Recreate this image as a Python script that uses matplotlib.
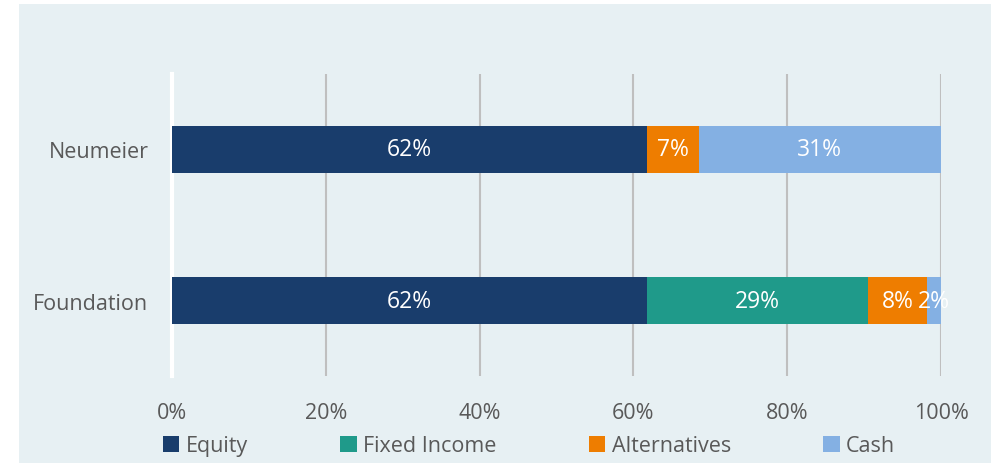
import matplotlib.pyplot as plt
from matplotlib.patches import Rectangle
import numpy as np

plt.rcParams['font.family'] = ['Open Sans', 'DejaVu Sans']

# data
groups = ['Foundation', 'Neumeier']
series = ['Equity', 'Fixed Income', 'Alternatives', 'Cash']
equity = [61.8, 61.8]
fixed_income = [28.7, 0]
alternatives = [7.7, 6.7]
cash = [1.8, 31.5]
labels = {
    'Equity': ['62%', '62%'],
    'Fixed Income': ['29%', ''],
    'Alternatives': ['8%', '7%'],
    'Cash': ['2%', '31%'],
}
colors = ['#193D6C', '#1F9A8A', '#EE7D00', '#84B0E3']
tick_text = ['0%', '20%', '40%', '60%', '80%', '100%']

fig = plt.figure(figsize=(9.91, 4.64), dpi=100)
bg = Rectangle((19 / 991, 0), 1, 1 - 5 / 464, transform=fig.transFigure,
               facecolor='#E7F0F3', edgecolor='none', zorder=-10)
fig.patches.append(bg)
ax = fig.add_axes([172 / 991, 1 - 377 / 464, 769 / 991, 302 / 464])
ax.set_facecolor('none')

y = np.arange(len(groups))
left = np.zeros(len(groups))
for name, vals, c in zip(series, [equity, fixed_income, alternatives, cash], colors):
    vals = np.array(vals)
    ax.barh(y, vals, left=left, height=0.31, color=c, label=name, zorder=3)
    for i, v in enumerate(vals):
        if labels[name][i]:
            ax.text(left[i] + v / 2, y[i], labels[name][i], ha='center', va='center',
                    color='white', fontsize=16.5, zorder=4)
    left += vals

ax.set_xlim(0, 100)
ax.set_ylim(-0.5, 1.5)
ax.set_xticks([0, 20, 40, 60, 80, 100])
ax.set_xticklabels(tick_text)
ax.set_yticks(y)
ax.set_yticklabels(groups)
ax.tick_params(axis='both', length=0, labelsize=15.5, colors='#595959')
ax.tick_params(axis='x', pad=19)
ax.tick_params(axis='y', pad=17)
ax.grid(axis='x', color='#BFBFBF', linewidth=1.5, zorder=1)
for s in ['top', 'right', 'bottom']:
    ax.spines[s].set_visible(False)
ax.spines['left'].set_color('white')
ax.spines['left'].set_linewidth(3)
ax.spines['left'].set_zorder(2)

leg = fig.legend(loc='center', bbox_to_anchor=(0.534, 1 - 447 / 464), ncol=4,
                 frameon=False, fontsize=15.5, handlelength=0.75, handleheight=0.75,
                 handletextpad=0.3, columnspacing=4.3)
for t in leg.get_texts():
    t.set_color('#595959')

plt.savefig('out.png', dpi=100)
